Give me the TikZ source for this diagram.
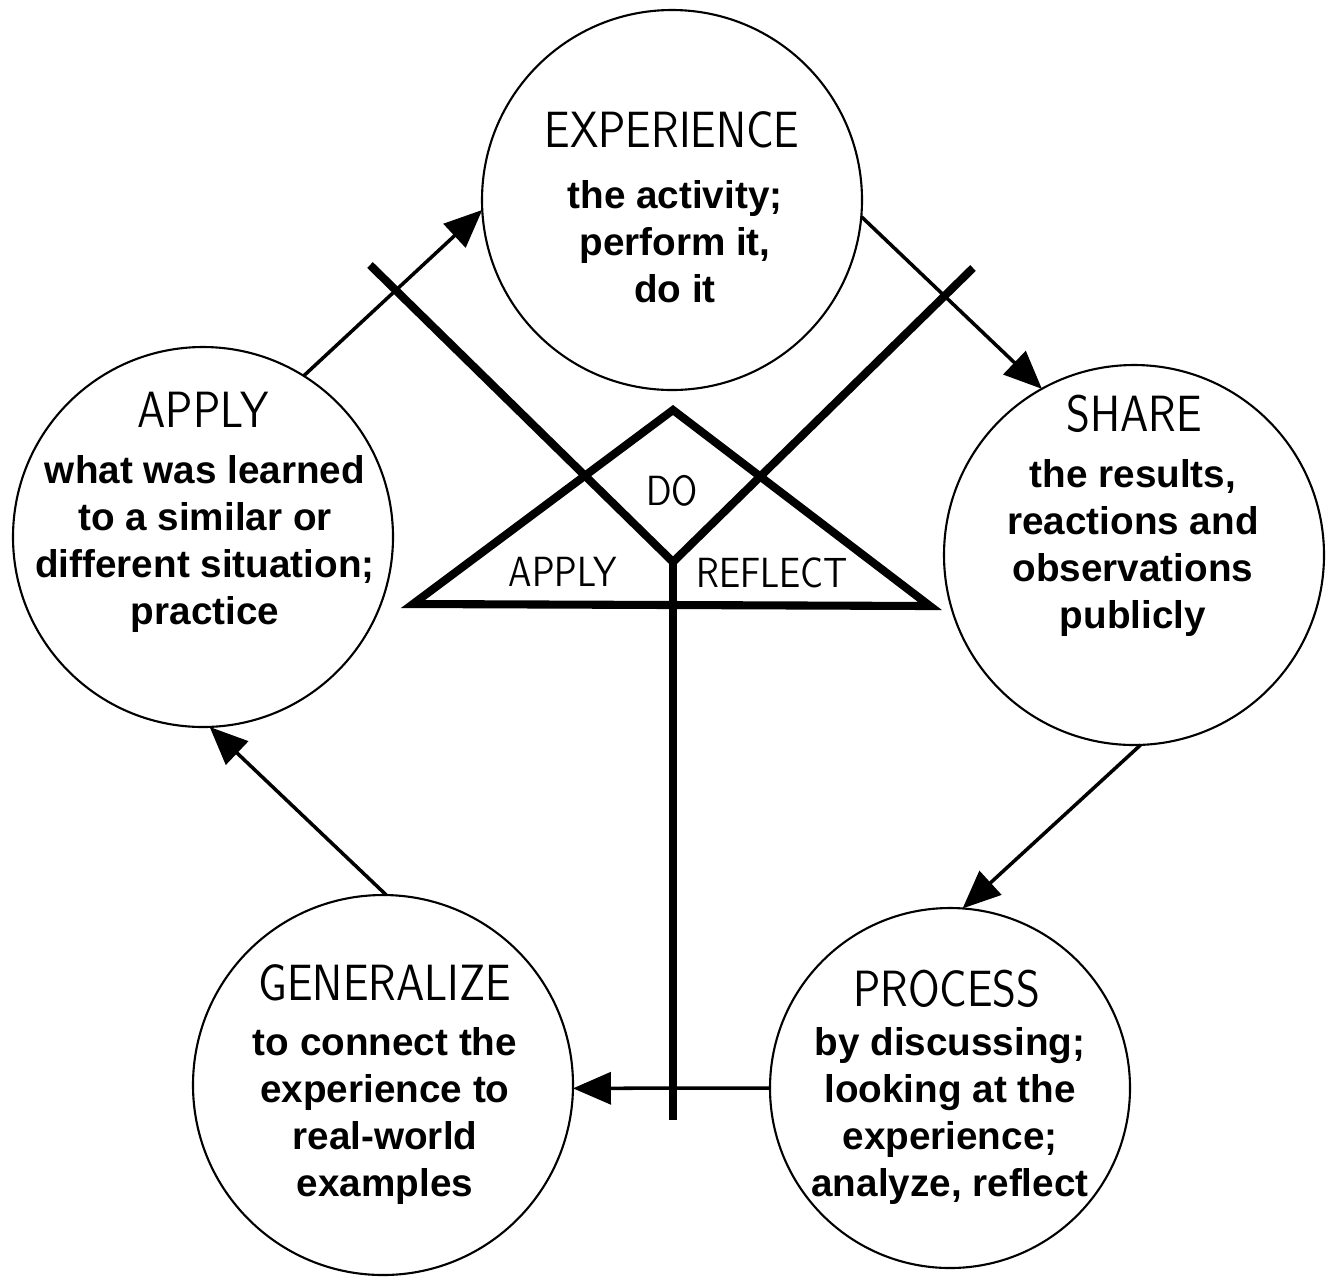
\documentclass[tikz,border=0pt]{standalone}
\usepackage{fontspec}
\usetikzlibrary{arrows.meta}
\newfontfamily\bodyfont{Liberation Sans}
\newcommand{\ttlbox}[1]{\scalebox{0.86}[1]{#1}}
\begin{document}
\begin{tikzpicture}[ring/.style={circle, draw, line width=0.6pt, minimum size=3.8cm, inner sep=0pt, outer sep=0pt},ttl/.style={inner sep=0pt, font=\sffamily\fontsize{14.5}{16}\selectfont},tri/.style={inner sep=0pt, font=\sffamily\fontsize{12}{14}\selectfont},txt/.style={align=center, inner sep=0pt, font=\bodyfont\bfseries\fontsize{11}{13.4}\selectfont},arr/.style={line width=1pt, -{Triangle[length=3.8mm,width=3.2mm]}},bar/.style={line width=2.3pt}]
  \useasboundingbox (0,0) rectangle (13.28,-12.81);

  % the five steps
  \node[ring] (exp) at (6.72,-2.00) {};
  \node[ring] (share) at (11.34,-5.55) {};
  \node[ring, minimum size=3.6cm] (proc) at (9.50,-10.88) {};
  \node[ring] (gen) at (3.83,-10.85) {};
  \node[ring] (app) at (2.03,-5.37) {};

  \node[ttl] (expT) at (6.72,-1.30) {\ttlbox{EXPERIENCE}};
  \node[ttl] (shareT) at (11.34,-4.14) {\ttlbox{SHARE}};
  \node[ttl] (procT) at (9.47,-9.89) {\ttlbox{PROCESS}};
  \node[ttl] (genT) at (3.85,-9.83) {\ttlbox{GENERALIZE}};
  \node[ttl] (appT) at (2.03,-4.10) {\ttlbox{APPLY}};

  \node[txt] (expB) at (6.75,-2.42) {the activity;\\perform it,\\do it};
  \node[txt] (shareB) at (11.33,-5.48) {the results,\\reactions and\\observations\\publicly};
  \node[txt] (procB) at (9.50,-11.16) {by discussing;\\looking at the\\experience;\\analyze, reflect};
  \node[txt] (genB) at (3.85,-11.16) {to connect the\\experience to\\real-world\\examples};
  \node[txt] (appB) at (2.05,-5.44) {what was learned\\to a similar or\\different situation;\\practice};

  % do - reflect - apply
  \coordinate (xl) at (3.70,-2.65);
  \coordinate (xr) at (9.73,-2.68);
  \coordinate (v) at (6.73,-5.62);
  \coordinate (vb) at (6.73,-11.20);
  \coordinate (tl) at (4.13,-6.04);
  \coordinate (tr) at (9.30,-6.06);
  \coordinate (tt) at (6.73,-4.10);

  \draw[bar] (tl) -- (tt) -- (tr) -- cycle;
  \draw[bar] (xl) -- (v) -- (xr);
  \draw[bar] (v) -- (vb);

  \node[tri] (doL) at (6.72,-4.91) {\ttlbox{DO}};
  \node[tri] (apL) at (5.63,-5.72) {\ttlbox{APPLY}};
  \node[tri] (reL) at (7.72,-5.73) {\ttlbox{REFLECT}};

  \draw[arr] (app.58) -- (exp.183);
  \draw[arr] (exp.-5) -- (share.119);
  \draw[arr] (share.-88) -- (proc.86);
  \draw[arr] (proc.180) -- (gen.-1);
  \draw[arr] (gen.89) -- (app.-88);

\end{tikzpicture}
\end{document}
